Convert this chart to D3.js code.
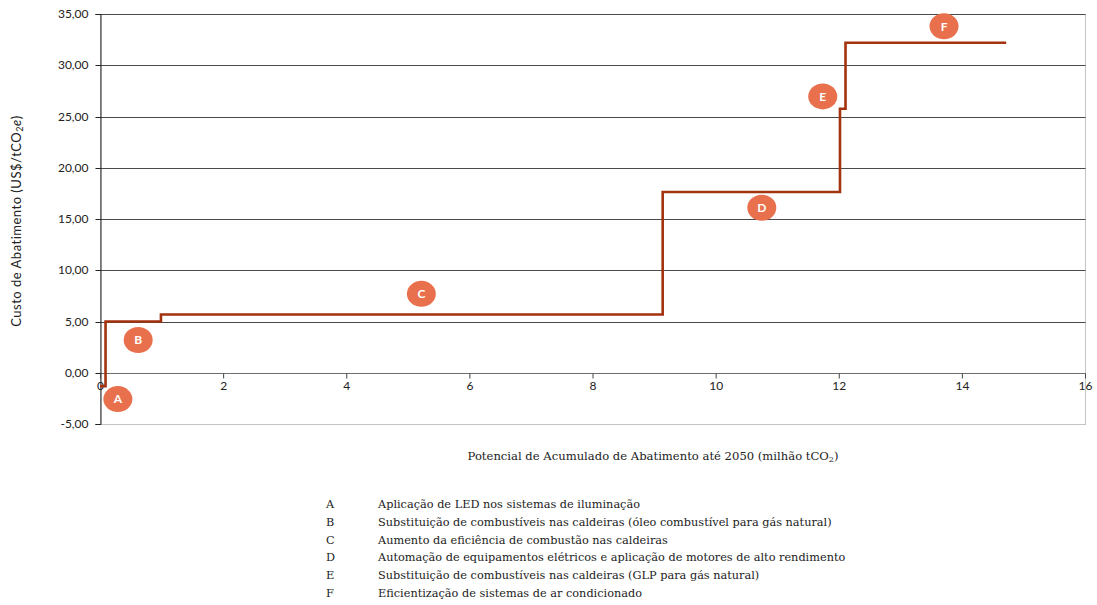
<!DOCTYPE html>
<html>
<head>
<meta charset="utf-8">
<script src="https://cdn.jsdelivr.net/npm/d3@7"></script>
<style>
  html, body { margin: 0; padding: 0; background: #fff; }
  svg { display: block; }
  .tick text { font-family: Lato, "Open Sans", sans-serif; font-size: 12px; fill: #222; }
</style>
</head>
<body>
<svg id="chart" width="1097" height="605"></svg>
<script>
// Marginal abatement cost curve: each measure is a step whose width is its
// abatement potential (million tCO2) and whose height is its cost (US$/tCO2e).
const measures = ["A", "B", "C", "D", "E", "F"];
const cumulativeStart = [0.0, 0.09, 0.99, 9.14, 12.02, 12.11];
const cumulativeEnd   = [0.09, 0.99, 9.14, 12.02, 12.11, 14.72];
const costs           = [-1.30, 5.00, 5.68, 17.64, 25.76, 32.20];

// Where each measure's badge sits, in data units (potential, cost)
const badgeX = [0.29, 0.62, 5.22, 10.75, 11.74, 13.71];
const badgeY = [-2.57, 3.20, 7.70, 16.10, 26.96, 33.80];

const descriptions = [
  "Aplicação de LED nos sistemas de iluminação",
  "Substituição de combustíveis nas caldeiras (óleo combustível para gás natural)",
  "Aumento da eficiência de combustão nas caldeiras",
  "Automação de equipamentos elétricos e aplicação de motores de alto rendimento",
  "Substituição de combustíveis nas caldeiras (GLP para gás natural)",
  "Eficientização de sistemas de ar condicionado"
];

const yTicks = [-5, 0, 5, 10, 15, 20, 25, 30, 35];
const xTicks = [0, 2, 4, 6, 8, 10, 12, 14, 16];

const svg = d3.select("#chart");
const plot = { left: 100, right: 1085, top: 14, bottom: 424 };

const x = d3.scaleLinear().domain([0, 16]).range([plot.left, plot.right]);
const y = d3.scaleLinear().domain([-5, 35]).range([plot.bottom, plot.top]);

// Plot area frame
svg.append("rect")
  .attr("x", plot.left + 0.5).attr("y", plot.top + 0.5)
  .attr("width", plot.right - plot.left).attr("height", plot.bottom - plot.top)
  .attr("fill", "none").attr("stroke", "#c4c4c4").attr("stroke-width", 1);

// Horizontal gridlines
svg.append("g")
  .selectAll("line")
  .data(yTicks.filter(d => d !== -5))
  .join("line")
  .attr("x1", plot.left).attr("x2", plot.right + 0.5)
  .attr("y1", d => Math.round(y(d)) + 0.5).attr("y2", d => Math.round(y(d)) + 0.5)
  .attr("stroke", d => d === 0 ? "#6e6e6e" : "#4a4a4a").attr("stroke-width", 1);

// Y axis
const yAxis = d3.axisLeft(y)
  .tickValues(yTicks)
  .tickSize(5)
  .tickPadding(7)
  .tickFormat(d => d3.format(".2f")(d).replace(".", ",").replace("\u2212", "-"));
const gy = svg.append("g")
  .attr("transform", `translate(${plot.left + 0.5},0)`)
  .call(yAxis);
gy.select(".domain").attr("stroke", "#222");
gy.selectAll(".tick line").attr("stroke", "#222");
gy.selectAll(".tick").attr("transform", d => `translate(0,${Math.round(y(d)) + 0.5})`);

// X axis along the zero-cost line
const xAxis = d3.axisBottom(x)
  .tickValues(xTicks)
  .tickSize(5)
  .tickPadding(3)
  .tickFormat(d3.format("d"));
const gx = svg.append("g")
  .attr("transform", `translate(0,${Math.round(y(0)) + 0.5})`)
  .call(xAxis);
gx.select(".domain").remove();
gx.selectAll(".tick line").attr("stroke", "#444");
gx.selectAll(".tick text").style("font-size", "12px");

// Step curve
const pts = [];
measures.forEach((m, i) => {
  pts.push([cumulativeStart[i], costs[i]]);
  pts.push([cumulativeEnd[i], costs[i]]);
});
svg.append("path")
  .datum(pts)
  .attr("d", d3.line().x(d => x(d[0])).y(d => y(d[1])))
  .attr("fill", "none")
  .attr("stroke", "#a3320f")
  .attr("stroke-width", 2.6)
  .attr("stroke-linejoin", "miter");

// Measure badges
const badges = svg.append("g")
  .selectAll("g")
  .data(measures)
  .join("g")
  .attr("transform", (d, i) => `translate(${x(badgeX[i])},${y(badgeY[i])})`);
badges.append("ellipse")
  .attr("rx", 14.5).attr("ry", 13)
  .attr("fill", "#e8704c");
badges.append("text")
  .attr("text-anchor", "middle")
  .attr("dy", "0.36em")
  .attr("fill", "#fff")
  .style("font-family", "Lato, 'Open Sans', sans-serif")
  .style("font-weight", "bold")
  .style("font-size", "12px")
  .text(d => d);

// Y axis title
svg.append("text")
  .attr("transform", "translate(21,221) rotate(-90)")
  .attr("text-anchor", "middle")
  .style("font-family", "Lato, 'Open Sans', sans-serif")
  .style("font-size", "13px")
  .style("letter-spacing", "0.5px")
  .attr("fill", "#222")
  .call(t => {
    t.append("tspan").text("Custo de Abatimento (US$/tCO");
    t.append("tspan").attr("baseline-shift", "-25%").style("font-size", "9px").text("2");
    t.append("tspan").style("font-style", "italic").text("e");
    t.append("tspan").text(")");
  });

// X axis title
svg.append("text")
  .attr("x", 653).attr("y", 460)
  .attr("text-anchor", "middle")
  .style("font-family", "'DejaVu Serif', serif")
  .style("font-size", "11.6px")
  .attr("fill", "#222")
  .call(t => {
    t.append("tspan").text("Potencial de Acumulado de Abatimento até 2050 (milhão tCO");
    t.append("tspan").attr("baseline-shift", "-25%").style("font-size", "8px").text("2");
    t.append("tspan").text(")");
  });

// Legend of measures
const legend = svg.append("g")
  .selectAll("g")
  .data(measures)
  .join("g")
  .attr("transform", (d, i) => `translate(0,${508 + i * 17.8})`);
legend.append("text")
  .attr("x", 326)
  .style("font-family", "'DejaVu Serif', serif")
  .style("font-size", "11.3px")
  .attr("fill", "#222")
  .text(d => d);
legend.append("text")
  .attr("x", 378)
  .style("font-family", "'DejaVu Serif', serif")
  .style("font-size", "11.3px")
  .attr("fill", "#222")
  .text((d, i) => descriptions[i]);
</script>
</body>
</html>
